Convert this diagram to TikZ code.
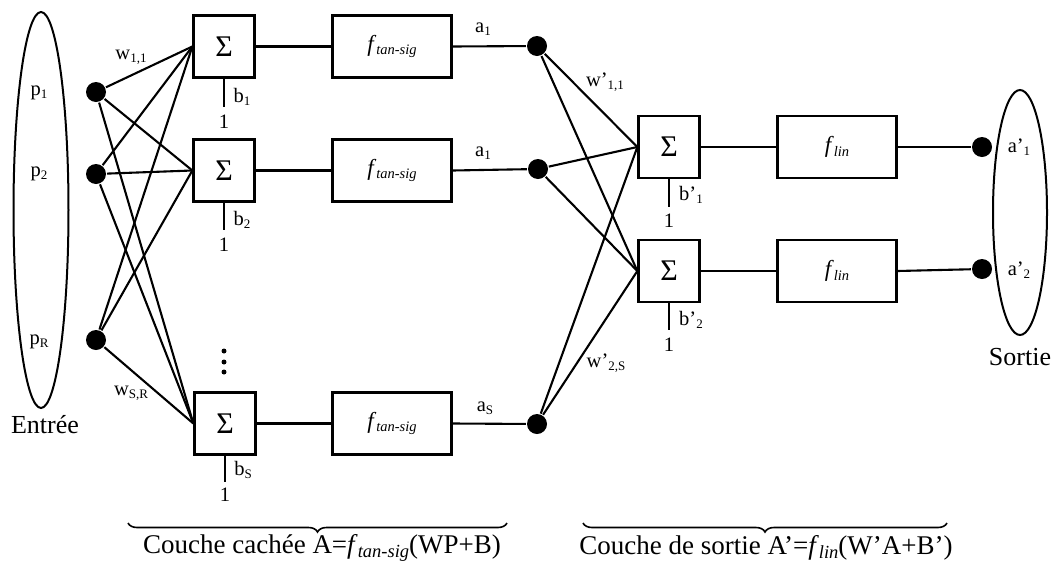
\documentclass[tikz,border=0pt]{standalone}
\usepackage{fontspec}
\setmainfont{Liberation Serif}
\usetikzlibrary{decorations.pathreplacing,shapes.geometric}
\newcommand{\lsub}[1]{\raisebox{-0.3ex}{\fontsize{13}{13}\selectfont #1}}
\newcommand{\fsub}[1]{\textit{f}\raisebox{-0.35ex}{\fontsize{14.5}{14.5}\selectfont\itshape #1}}
\newcommand{\bigfsub}[1]{\textit{f}\raisebox{-0.35ex}{\fontsize{18.5}{18.5}\selectfont\itshape #1}}
\begin{document}
\begin{tikzpicture}[x=1pt,y=-1pt,line width=2.1pt,
  every node/.style={font=\fontsize{20.5}{24}\selectfont},
  sumbox/.style={draw,line width=2.3pt,minimum width=61pt,minimum height=62pt,inner sep=0pt,font=\fontsize{30}{32}\selectfont},
  funcbox/.style={draw,line width=2.3pt,minimum width=119pt,minimum height=62pt,inner sep=0pt,font=\fontsize{23}{26}\selectfont},
  neuron/.style={circle,fill=black,minimum size=20pt,inner sep=0pt},
  vdot/.style={circle,fill=black,minimum size=5pt,inner sep=0pt},
  layer/.style={draw,ellipse,line width=2pt,inner sep=0pt},
  big/.style={font=\fontsize{26}{30}\selectfont},
  captext/.style={font=\fontsize{27}{30}\selectfont},
  lbl/.style={inner sep=0pt},
  bracestyle/.style={decorate,decoration={brace,mirror,amplitude=9pt},line width=1.6pt}
]
\useasboundingbox (0,0) rectangle (1058,571);

% input ellipse
\node[layer,minimum width=55pt,minimum height=396pt] (inell) at (41,210) {};
\node[lbl] (lp1) at (39,93) {p\lsub{1}};
\node[lbl] (lp2) at (39,174) {p\lsub{2}};
\node[lbl] (lpR) at (39,342) {p\lsub{R}};
\node[big,lbl] (entree) at (45,425) {Entrée};

% input dots
\node[neuron] (p1) at (96,92) {};
\node[neuron] (p2) at (96,174) {};
\node[neuron] (pR) at (96,340) {};

% hidden sums
\node[sumbox] (s1) at (224,46.5) {Σ};
\node[sumbox] (s2) at (224,170.5) {Σ};
\node[sumbox] (sS) at (225,423.5) {Σ};

% vertical dots
\node[vdot] (d1) at (224,351) {};
\node[vdot] (d2) at (224,362) {};
\node[vdot] (d3) at (224,372) {};

% tansig boxes
\node[funcbox] (t1) at (392,46.5) {\fsub{tan-sig}};
\node[funcbox] (t2) at (392,170.5) {\fsub{tan-sig}};
\node[funcbox] (tS) at (392,423.5) {\fsub{tan-sig}};

% hidden outputs
\node[neuron] (h1) at (537,46) {};
\node[neuron] (h2) at (538,169) {};
\node[neuron] (hS) at (537,424) {};

% output sums
\node[sumbox] (o1) at (669,147) {Σ};
\node[sumbox] (o2) at (669,271) {Σ};

% lin boxes
\node[funcbox] (l1) at (837,147) {\fsub{lin}};
\node[funcbox] (l2) at (837,271) {\fsub{lin}};

% output dots
\node[neuron] (y1) at (982,147) {};
\node[neuron] (y2) at (982,269) {};

% output ellipse
\node[layer,minimum width=54pt,minimum height=245pt] (outell) at (1020,212.5) {};
\node[lbl] (la1) at (1019,147) {a’\lsub{1}};
\node[lbl] (la2) at (1019,270) {a’\lsub{2}};
\node[big,lbl] (sortie) at (1020,357) {Sortie};

% input connections
\foreach \i in {p1,p2,pR}
  \foreach \j in {s1,s2,sS}
    \draw (\i) -- (\j.west);
\node[lbl] (w11) at (131,57) {w\lsub{1,1}};
\node[lbl] (wSR) at (131,393) {w\lsub{S,R}};

% sum -> tansig -> dot
\foreach \k in {1,2,S} {
  \draw (s\k.east) -- (t\k.west);
  \draw (t\k.east) -- (h\k);
}
\node[lbl] (a1) at (483,29) {a\lsub{1}};
\node[lbl] (a2) at (483,153) {a\lsub{1}};
\node[lbl] (aS) at (485,408) {a\lsub{S}};

% hidden biases
\coordinate (bb1) at (224,107);
\coordinate (bb2) at (224,230);
\coordinate (bbS) at (225,482);
\draw (s1.south) -- (bb1);
\draw (s2.south) -- (bb2);
\draw (sS.south) -- (bbS);
\node[lbl] (b1) at (242,97) {b\lsub{1}};
\node[lbl] (b2) at (242,220) {b\lsub{2}};
\node[lbl] (bS) at (243,470) {b\lsub{S}};
\node[lbl] (one1) at (224,122) {1};
\node[lbl] (one2) at (224,245) {1};
\node[lbl] (oneS) at (225,495) {1};

% hidden -> output sums
\foreach \i in {h1,h2,hS}
  \foreach \j in {o1,o2}
    \draw (\i) -- (\j.west);
\node[lbl] (w11p) at (605,82) {w’\lsub{1,1}};
\node[lbl] (w2Sp) at (606,363) {w’\lsub{2,S}};

% output chain
\draw (o1.east) -- (l1.west);
\draw (o2.east) -- (l2.west);
\draw (l1.east) -- (y1);
\draw (l2.east) -- (y2);

% output biases
\coordinate (bo1) at (669,207);
\coordinate (bo2) at (669,330);
\draw (o1.south) -- (bo1);
\draw (o2.south) -- (bo2);
\node[lbl] (bp1) at (691,195) {b’\lsub{1}};
\node[lbl] (bp2) at (691,320) {b’\lsub{2}};
\node[lbl] (onep1) at (669,221) {1};
\node[lbl] (onep2) at (669,345) {1};

% braces
\coordinate (brL1) at (128,523);
\coordinate (brL2) at (507,523);
\coordinate (brR1) at (583,523);
\coordinate (brR2) at (947,523);
\draw[bracestyle] (brL1) -- (brL2);
\draw[bracestyle] (brR1) -- (brR2);
\node[captext,lbl] (capL) at (322,548) {Couche cachée A=\bigfsub{tan-sig}(WP+B)};
\node[captext,lbl] (capR) at (766,548) {Couche de sortie A’=\bigfsub{lin}(W’A+B’)};
\end{tikzpicture}
\end{document}
